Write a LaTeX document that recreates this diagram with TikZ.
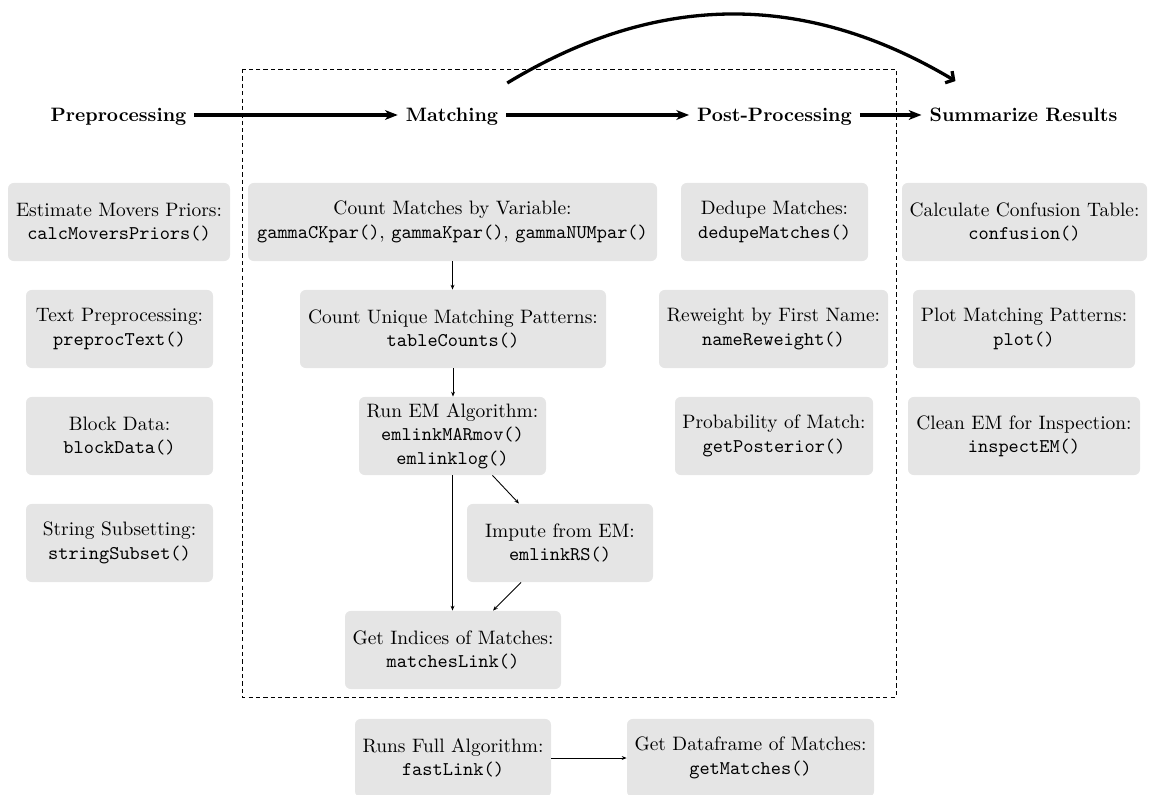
\documentclass[tikz,border=0pt]{standalone}
\usepackage{fontspec}
\usetikzlibrary{arrows.meta,calc}
\begin{document}
\begin{tikzpicture}[x=0.515pt,y=-0.515pt,
  box/.style={fill=gray!20, rounded corners=3pt, align=center, inner sep=0pt, minimum height=40.2pt},
  bw/.style={minimum width=#1*0.515pt},
  stage/.style={font=\bfseries, inner xsep=4pt, inner ysep=4pt, text height=7pt, text depth=0pt},
  thickarr/.style={-{Stealth[length=6.5pt,width=5pt,inset=1.8pt]}, line width=1.7pt},
  thinarr/.style={-{Stealth[length=2.5pt,width=2pt]}, line width=0.45pt},
  dashedframe/.style={dash pattern=on 2.2pt off 1.6pt, line width=0.5pt}
]
\useasboundingbox (0,0) rectangle (1152,795);

% dashed frame
\draw[dashedframe] (242,69) rectangle (896,697);

% stage labels
\node[stage] (pre)  at (118.5,115) {Preprocessing};
\node[stage] (match) at (452,115) {Matching};
\node[stage] (post) at (774.5,115) {Post-Processing};
\node[stage] (summ) at (1023.5,115) {Summarize Results};

\draw[thickarr] (pre) -- (match);
\draw[thickarr] (match) -- (post);
\draw[thickarr] (post) -- (summ);

\coordinate (cs) at ($(match.east)+(1,-32)$);
\coordinate (cend) at ($(summ.north west)+(34,-19)$);
\draw[-{Straight Barb[length=3pt,width=7pt]}, line width=1.7pt] (cs) to[bend left=31] (cend);

% preprocessing column
\node[box,bw=222] (est) at (119,222) {Estimate Movers Priors:\\\texttt{calcMoversPriors()}};
\node[box,bw=187] (txt) at (119.5,329) {Text Preprocessing:\\\texttt{preprocText()}};
\node[box,bw=187] (blk) at (119.5,436) {Block Data:\\\texttt{blockData()}};
\node[box,bw=187] (str) at (119.5,543) {String Subsetting:\\\texttt{stringSubset()}};

% matching column
\node[box,bw=409] (cm) at (452.5,222) {Count Matches by Variable:\\\texttt{gammaCKpar()}, \texttt{gammaKpar()}, \texttt{gammaNUMpar()}};
\node[box,bw=306] (cu) at (453,329) {Count Unique Matching Patterns:\\\texttt{tableCounts()}};
\node[box,bw=187] (run) at (452.5,436) {Run EM Algorithm:\\\texttt{emlinkMARmov()}\\\texttt{emlinklog()}};
\node[box,bw=186] (imp) at (560,543) {Impute from EM:\\\texttt{emlinkRS()}};
\node[box,bw=216] (gi) at (453,650) {Get Indices of Matches:\\\texttt{matchesLink()}};

% post-processing column
\node[box,bw=187] (dd) at (774.5,222) {Dedupe Matches:\\\texttt{dedupeMatches()}};
\node[box,bw=229] (rw) at (773.5,329) {Reweight by First Name:\\\texttt{nameReweight()}};
\node[box,bw=198] (pr) at (774,436) {Probability of Match:\\\texttt{getPosterior()}};

% summarize column
\node[box,bw=245] (cf) at (1024.5,222) {Calculate Confusion Table:\\\texttt{confusion()}};
\node[box,bw=222] (pm) at (1024,329) {Plot Matching Patterns:\\\texttt{plot()}};
\node[box,bw=232] (cl) at (1024,436) {Clean EM for Inspection:\\\texttt{inspectEM()}};

% bottom
\node[box,bw=196] (runs) at (453,758) {Runs Full Algorithm:\\\texttt{fastLink()}};
\node[box,bw=247] (gdf) at (750.5,758) {Get Dataframe of Matches:\\\texttt{getMatches()}};

% thin arrows
\draw[thinarr] (cm.south) -- (cm.south |- cu.north);
\draw[thinarr] (cu.south) -- (cu.south |- run.north);
\draw[thinarr] (run.south) -- (run.south |- gi.north);
\draw[thinarr] ($(run.south)+(40,0)$) -- ($(imp.north)+(-41,0)$);
\draw[thinarr] ($(imp.south)+(-39,0)$) -- ($(gi.north)+(40,0)$);
\draw[thinarr] (runs) -- (gdf);
\end{tikzpicture}
\end{document}
